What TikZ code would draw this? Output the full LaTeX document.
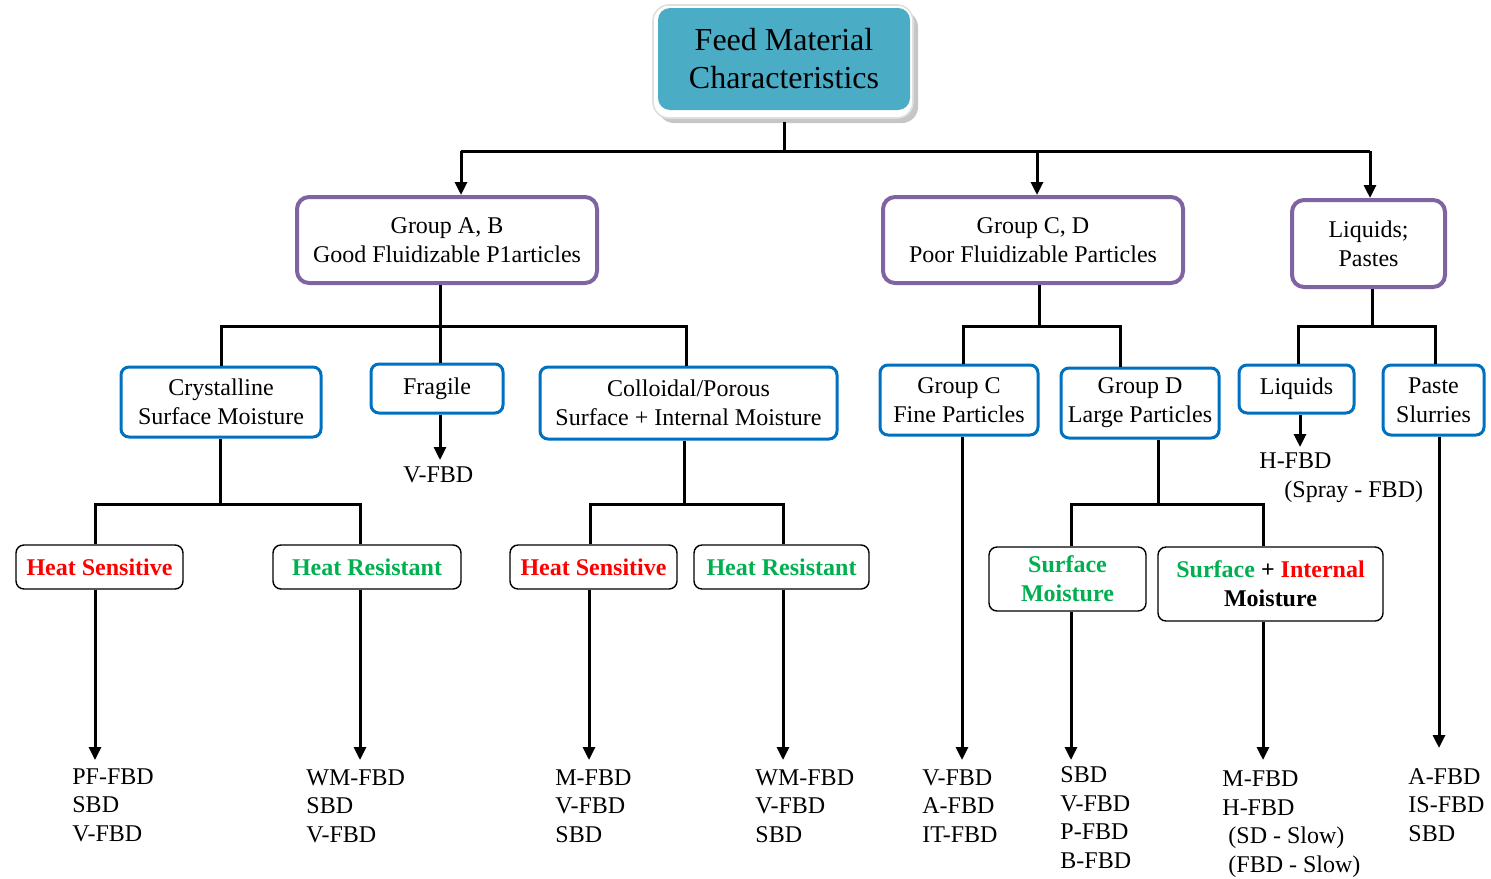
\documentclass[tikz,border=0pt]{standalone}
\usepackage{fontspec}
\setmainfont{Liberation Serif}
\usetikzlibrary{arrows.meta,backgrounds}
\definecolor{teal1}{RGB}{75,172,198}
\definecolor{purp}{RGB}{128,100,162}
\definecolor{blu}{RGB}{0,112,192}
\definecolor{grn}{RGB}{0,176,80}
\definecolor{rd}{RGB}{255,0,0}
\begin{document}
\begin{tikzpicture}[x=0.5pt,y=-0.5pt,
 every node/.style={font=\fontsize{12}{14.5}\selectfont, align=center, inner sep=0pt},
 grpbox/.style={draw=purp, line width=2pt, rounded corners=6pt, fill=white},
 subbox/.style={draw=blu, line width=1.5pt, rounded corners=4pt, fill=white},
 heatbox/.style={draw=black, line width=0.7pt, rounded corners=4pt, fill=white, font=\bfseries\fontsize{12}{14.5}\selectfont},
 ln/.style={line width=1.5pt},
 arr/.style={line width=1.5pt, -{Triangle[width=6pt,length=6.5pt]}},
 outtxt/.style={align=left, anchor=base west, font=\fontsize{12}{14.25}\selectfont}]
\useasboundingbox (0,0) rectangle (1491,878);
% top node
\node[fill=teal1, rounded corners=6pt, minimum width=126pt, minimum height=51pt, font=\fontsize{16}{19}\selectfont] (top) at (784,59) {Feed Material\\Characteristics};
\begin{scope}[on background layer]
 \fill[gray!45, rounded corners=8pt] (658,11) rectangle (918,123);
 \filldraw[fill=white, draw=gray!25, line width=0.8pt, rounded corners=8pt] (653,5) rectangle (913,118);
\end{scope}
% level 1
\node[grpbox, minimum width=150pt, minimum height=43pt] (gab) at (447,240) {Group A, B\\Good Fluidizable P1articles};
\node[grpbox, minimum width=150pt, minimum height=43pt] (gcd) at (1033,240) {Group C, D\\Poor Fluidizable Particles};
\node[grpbox, minimum width=76.5pt, minimum height=43.5pt] (lp) at (1368.5,243.5) {Liquids;\\Pastes};
% level 2
\node[subbox, minimum width=100pt, minimum height=35pt] (cry) at (221,402) {Crystalline\\Surface Moisture};
\node[subbox, minimum width=66pt, minimum height=24.5pt] (fra) at (437,388.5) {Fragile};
\node[subbox, minimum width=148.5pt, minimum height=36pt] (col) at (688.5,403) {Colloidal/Porous\\Surface + Internal Moisture};
\node[subbox, minimum width=79pt, minimum height=35pt] (gc) at (959,400) {Group C\\Fine Particles};
\node[subbox, minimum width=79pt, minimum height=35pt] (gd) at (1140,403) {Group D\\Large Particles};
\node[subbox, minimum width=57.5pt, minimum height=24pt] (liq) at (1296.5,389) {Liquids};
\node[subbox, minimum width=50.5pt, minimum height=35pt] (pas) at (1433.5,400) {Paste\\Slurries};
% level 3
\node[heatbox, minimum width=83.5pt, minimum height=22pt, text=rd] (hs1) at (99.5,567) {Heat Sensitive};
\node[heatbox, minimum width=94pt, minimum height=22pt, text=grn] (hr1) at (367,567) {Heat Resistant};
\node[heatbox, minimum width=83.5pt, minimum height=22pt, text=rd] (hs2) at (593.5,567) {Heat Sensitive};
\node[heatbox, minimum width=87.5pt, minimum height=22pt, text=grn] (hr2) at (781.5,567) {Heat Resistant};
\node[heatbox, minimum width=78.5pt, minimum height=32pt, text=grn] (sm) at (1067.5,579) {Surface\\Moisture};
\node[heatbox, minimum width=112.5pt, minimum height=37pt] (si) at (1270.5,584) {\textcolor{grn}{Surface} + \textcolor{rd}{Internal}\\Moisture};
% outputs (anchor = baseline of last line)
\node[outtxt] (vf) at (403,482) {V-FBD};
\node[outtxt] (hf) at (1259,497) {H-FBD\\\hspace*{12.5pt}(Spray - FBD)};
\node[outtxt] (o1) at (72,841) {PF-FBD\\SBD\\V-FBD};
\node[outtxt] (o2) at (306,842) {WM-FBD\\SBD\\V-FBD};
\node[outtxt] (o3) at (555,842) {M-FBD\\V-FBD\\SBD};
\node[outtxt] (o4) at (755,842) {WM-FBD\\V-FBD\\SBD};
\node[outtxt] (o5) at (922,842) {V-FBD\\A-FBD\\IT-FBD};
\node[outtxt] (o6) at (1060,868) {SBD\\V-FBD\\P-FBD\\B-FBD};
\node[outtxt] (o7) at (1222,872) {M-FBD\\H-FBD\\\hspace*{3pt}(SD - Slow)\\\hspace*{3pt}(FBD - Slow)};
\node[outtxt] (o8) at (1408,841) {A-FBD\\IS-FBD\\SBD};
% connectors level 0 -> 1
\coordinate (b0) at (784,151);
\coordinate (bL) at (461,151);
\coordinate (bM) at (1037,151);
\coordinate (bR) at (1370,151);
\draw[ln, shorten <=6pt] (top.south) -- (b0);
\draw[ln] (bL) -- (bR);
\draw[arr] (bL) -- (bL |- gab.north);
\draw[arr] (bM) -- (bM |- gcd.north);
\draw[arr] (bR) -- (bR |- lp.north);
% group A,B
\coordinate (jA) at (440,326);
\coordinate (jA1) at (221,326);
\coordinate (jA3) at (686,326);
\draw[ln] (jA |- gab.south) -- (jA);
\draw[ln] (jA1 |- cry.north) -- (jA1) -- (jA3) -- (jA3 |- col.north);
\draw[ln] (jA) -- (jA |- fra.north);
\coordinate (eF) at (440,460);
\draw[arr] (eF |- fra.south) -- (eF);
% crystalline
\coordinate (jC) at (220,504);
\coordinate (jC1) at (95,504);
\coordinate (jC2) at (360,504);
\draw[ln] (jC |- cry.south) -- (jC);
\draw[ln] (jC1 |- hs1.north) -- (jC1) -- (jC2) -- (jC2 |- hr1.north);
\coordinate (e1) at (95,760);
\coordinate (e2) at (360,760);
\draw[arr] (e1 |- hs1.south) -- (e1);
\draw[arr] (e2 |- hr1.south) -- (e2);
% colloidal
\coordinate (jK) at (684,504);
\coordinate (jK1) at (590,504);
\coordinate (jK2) at (783,504);
\draw[ln] (jK |- col.south) -- (jK);
\draw[ln] (jK1 |- hs2.north) -- (jK1) -- (jK2) -- (jK2 |- hr2.north);
\coordinate (e3) at (589,760);
\coordinate (e4) at (783,760);
\draw[arr] (e3 |- hs2.south) -- (e3);
\draw[arr] (e4 |- hr2.south) -- (e4);
% group C,D
\coordinate (jD) at (1039,326);
\coordinate (jD1) at (963,326);
\coordinate (jD2) at (1120,326);
\draw[ln] (jD |- gcd.south) -- (jD);
\draw[ln] (jD1 |- gc.north) -- (jD1) -- (jD2) -- (jD2 |- gd.north);
\coordinate (e5) at (962,760);
\draw[arr] (e5 |- gc.south) -- (e5);
\coordinate (jE) at (1158,504);
\coordinate (jE1) at (1071,504);
\coordinate (jE2) at (1263,504);
\draw[ln] (jE |- gd.south) -- (jE);
\draw[ln] (jE1 |- sm.north) -- (jE1) -- (jE2) -- (jE2 |- si.north);
\coordinate (e6) at (1071,760);
\coordinate (e7) at (1263,760);
\draw[arr] (e6 |- sm.south) -- (e6);
\draw[arr] (e7 |- si.south) -- (e7);
% liquids, pastes
\coordinate (jL) at (1372,326);
\coordinate (jL1) at (1298,326);
\coordinate (jL2) at (1435,326);
\draw[ln] (jL |- lp.south) -- (jL);
\draw[ln] (jL1 |- liq.north) -- (jL1) -- (jL2) -- (jL2 |- pas.north);
\coordinate (eL) at (1300,447);
\draw[arr] (eL |- liq.south) -- (eL);
\coordinate (e8) at (1439,748);
\draw[arr] (e8 |- pas.south) -- (e8);
\end{tikzpicture}
\end{document}
